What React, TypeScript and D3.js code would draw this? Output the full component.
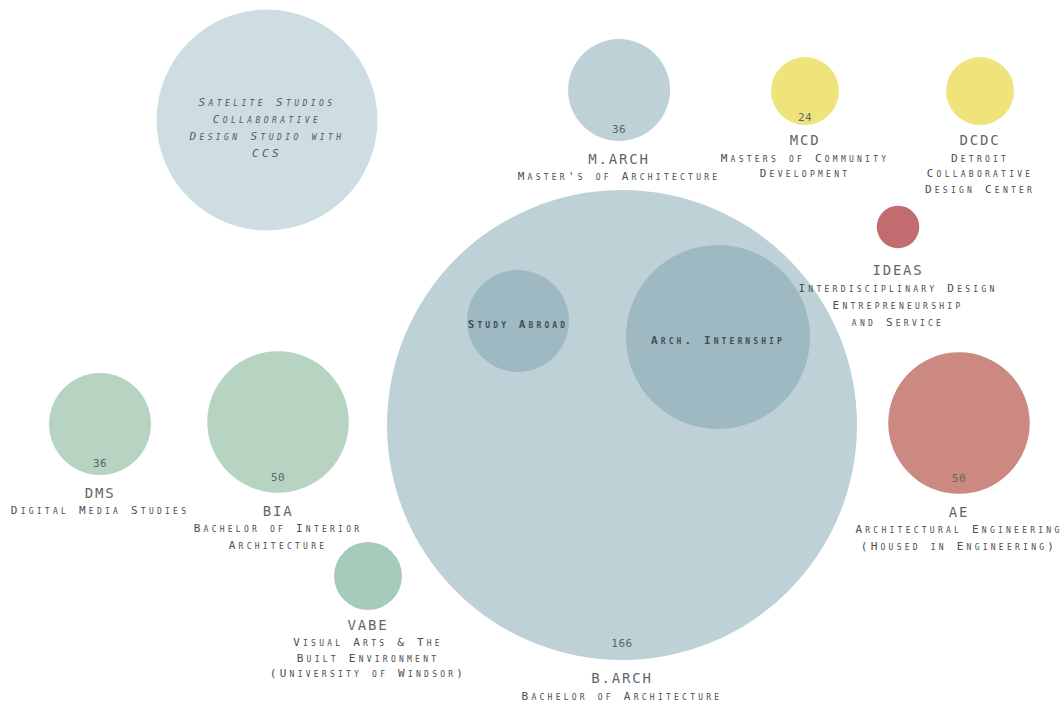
import React from "react";
import * as d3 from "d3";

// ---- data ----
const programs = ["Satellite", "M.ARCH", "MCD", "DCDC", "IDEAS", "B.ARCH", "Study Abroad", "Arch. Internship", "DMS", "BIA", "VABE", "AE"];
const enrolment = [78, 36, 24, 24, 15, 166, 36, 65, 36, 50, 24, 50];
const valueShown = [false, true, true, false, false, true, false, false, true, true, false, true];
const titles = ["", "M.ARCH", "MCD", "DCDC", "IDEAS", "B.ARCH", "", "", "DMS", "BIA", "VABE", "AE"];
const subtitles: string[][] = [
  [],
  ["Master's of Architecture"],
  ["Masters of Community", "Development"],
  ["Detroit", "Collaborative", "Design Center"],
  ["Interdisciplinary Design", "Entrepreneurship", "and Service"],
  ["Bachelor of Architecture"],
  [],
  [],
  ["Digital Media Studies"],
  ["Bachelor of Interior", "Architecture"],
  ["Visual Arts & The", "Built Environment", "(University of Windsor)"],
  ["Architectural Engineering", "(Housed in Engineering)"],
];
const innerText: string[][] = [
  ["Satelite Studios", "Collaborative", "Design Studio with", "CCS"],
  [], [], [], [], [],
  ["Study Abroad"],
  ["Arch. Internship"],
  [], [], [], [],
];
const groups = ["blue0", "blue", "yellow", "yellow", "red", "blue", "inner", "inner", "green", "green", "green2", "red2"];

// ---- layout (percent of canvas) ----
const layoutX = [25.09, 58.18, 75.66, 92.11, 84.4, 58.46, 48.68, 67.48, 9.4, 26.13, 34.59, 90.13];
const layoutY = [17.05, 12.78, 12.93, 12.93, 32.24, 60.37, 45.6, 47.87, 60.23, 59.94, 81.82, 60.09];

const W = 1064;
const H = 704;

const colorScale = d3
  .scaleOrdinal<string, string>()
  .domain(["blue0", "blue", "inner", "yellow", "red", "red2", "green", "green2"])
  .range(["#cedde2", "#bed1d7", "#9eb9c2", "#efe37c", "#c26c6f", "#cb8981", "#b6d4c1", "#a7cbbb"]);

const FONT = "'DejaVu Sans Mono', 'Liberation Mono', monospace";

export default function App() {
  const x = d3.scaleLinear().domain([0, 100]).range([0, W]);
  const y = d3.scaleLinear().domain([0, 100]).range([0, H]);
  const r = d3.scaleLinear().domain([0, 166]).range([0, 235]);

  const nodes = programs.map((p, i) => ({
    name: p,
    value: enrolment[i],
    cx: x(layoutX[i]),
    cy: y(layoutY[i]),
    r: r(enrolment[i]),
    color: colorScale(groups[i]),
    title: titles[i],
    subs: subtitles[i],
    inner: innerText[i],
    showValue: valueShown[i],
  }));

  // draw big ones first so inner circles sit on top
  const order = d3.range(nodes.length).sort((a, b) => {
    const ia = groups[a] === "inner" ? 1 : 0;
    const ib = groups[b] === "inner" ? 1 : 0;
    return ia - ib;
  });

  return (
    <div style={{ position: "absolute", left: 0, top: 0 }}>
      <svg width={W} height={H} style={{ display: "block", background: "#ffffff" }}>
        {order.map((i) => {
          const n = nodes[i];
          return <circle key={"c" + i} cx={n.cx} cy={n.cy} r={n.r} fill={n.color} />;
        })}
        {nodes.map((n, i) => {
          const bottom = n.cy + n.r;
          const small = n.r < 40;
          const tiny = n.r < 25;
          const titleY = bottom + (tiny ? 22 : small ? 15 : 18);
          const isSat = i === 0;
          const lineH = isSat ? 16.7 : small && !tiny ? 15.5 : 17;
          const innerStart = isSat ? n.cy + 8 - ((n.inner.length - 1) * lineH) / 2 : n.cy + 3;
          return (
            <g key={"t" + i} fontFamily={FONT} textAnchor="middle">
              {n.showValue && (
                <text
                  x={n.cx}
                  y={bottom - Math.min(17, n.r * 0.22)}
                  dominantBaseline="central"
                  fontSize={11}
                  fill="#5d6466"
                  letterSpacing={0.5}
                >
                  {d3.format("d")(n.value)}
                </text>
              )}
              {n.title && (
                <text
                  x={n.cx}
                  y={titleY}
                  dominantBaseline="central"
                  fontSize={14}
                  fill="#62676a"
                  letterSpacing={1.8}
                >
                  {n.title}
                </text>
              )}
              {n.subs.map((s, j) => (
                <text
                  key={j}
                  x={n.cx}
                  y={titleY + 18 + j * lineH}
                  dominantBaseline="central"
                  fontSize={11}
                  fill="#4a4d4f"
                  letterSpacing={3.25}
                  style={{ fontVariant: "small-caps" }}
                >
                  {s}
                </text>
              ))}
              {n.inner.map((s, j) => (
                <text
                  key={"in" + j}
                  x={n.cx}
                  y={innerStart + j * lineH}
                  dominantBaseline="central"
                  fontSize={11}
                  fill={isSat ? "#4f5b60" : "#3f5157"}
                  fontWeight={isSat ? "normal" : "bold"}
                  fontStyle={isSat ? "italic" : "normal"}
                  letterSpacing={isSat ? 3.4 : 3.1}
                  style={{ fontVariant: "small-caps" }}
                >
                  {s}
                </text>
              ))}
            </g>
          );
        })}
      </svg>
    </div>
  );
}
